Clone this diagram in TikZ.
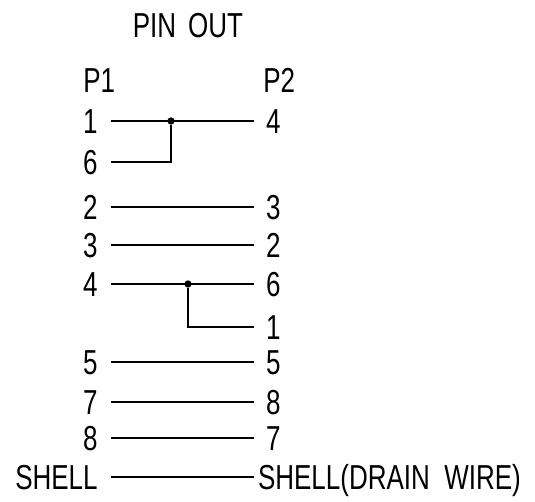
\documentclass[tikz,border=0pt]{standalone}
\usepackage{fontspec}
\setmainfont{Liberation Sans}[FakeStretch=0.75]

\begin{document}
\begin{tikzpicture}[x=0.75pt,y=-0.75pt,
  pin/.style={inner sep=0pt,text height=18.6pt,text depth=0pt,font=\fontsize{26}{26}\selectfont},
  leftpin/.style={pin,anchor=east,outer xsep=10pt},
  rightpin/.style={pin,anchor=west,outer xsep=9pt},
  wire/.style={line width=1.4pt},
  joint/.style={circle,fill,inner sep=0pt,minimum size=5.5pt}]

\useasboundingbox (0,0) rectangle (535,502);

% heading
\node[pin] (title) at (188,25) {PIN\hspace{9pt}OUT};
\node[pin,anchor=west] (p1) at (83,80) {P1};
\node[pin,anchor=west] (p2) at (263,80) {P2};

% P1 side
\node[leftpin] (l1) at (111,121) {1};
\node[leftpin] (l6) at (111,162) {6};
\node[leftpin] (l2) at (111,207) {2};
\node[leftpin] (l3) at (111,245) {3};
\node[leftpin] (l4) at (111,284) {4};
\node[leftpin] (l5) at (111,362) {5};
\node[leftpin] (l7) at (111,402) {7};
\node[leftpin] (l8) at (111,438) {8};
\node[leftpin] (lshell) at (111,477) {SHELL};

% P2 side
\node[rightpin] (r4) at (254,121) {4};
\node[rightpin] (r3) at (254,207) {3};
\node[rightpin] (r2) at (254,245) {2};
\node[rightpin] (r6) at (254,284) {6};
\node[rightpin] (r1) at (254,327) {1};
\node[rightpin] (r5) at (254,362) {5};
\node[rightpin] (r8) at (254,402) {8};
\node[rightpin] (r7) at (254,438) {7};
\node[rightpin,outer xsep=3pt] (rshell) at (254,477) {SHELL(DRAIN\ \ WIRE)};

% wires
\draw[wire] (l1.east) -- (r4.west);
\draw[wire] (l2.east) -- (r3.west);
\draw[wire] (l3.east) -- (r2.west);
\draw[wire] (l4.east) -- (r6.west);
\draw[wire] (l5.east) -- (r5.west);
\draw[wire] (l7.east) -- (r8.west);
\draw[wire] (l8.east) -- (r7.west);
\draw[wire] (lshell.east) -- (rshell.west);

% splices
\node[joint] (j1) at (171,121) {};
\node[joint] (j2) at (188,284) {};
\draw[wire] (l6.east) -| (j1);
\draw[wire] (j2) |- (r1.west);

\end{tikzpicture}
\end{document}
